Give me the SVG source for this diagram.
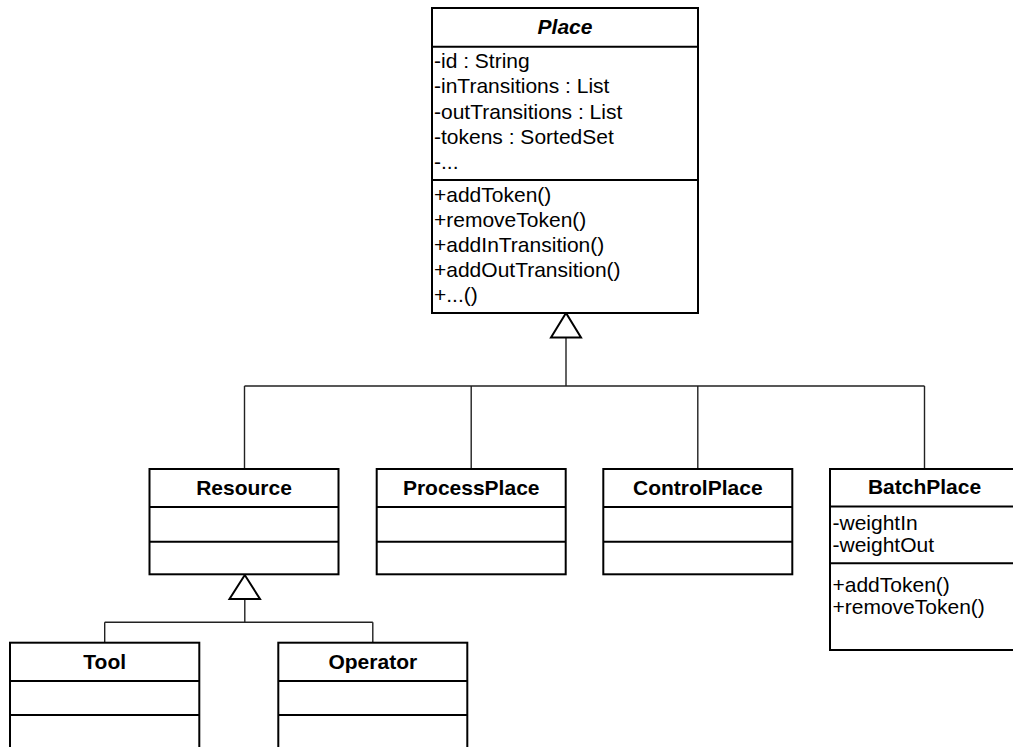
<svg xmlns="http://www.w3.org/2000/svg" width="1013" height="747" viewBox="0 0 1013 747">
  <style>
    .box { fill: #ffffff; stroke: #000000; stroke-width: 2; }
    .sep { stroke: #000000; stroke-width: 2; fill: none; }
    .title { font-family: "Liberation Sans", Arial, sans-serif; font-size: 21px; font-weight: bold; text-anchor: middle; fill: #000; }
    .abstract { font-style: italic; }
    .member { font-family: "Liberation Sans", Arial, sans-serif; font-size: 21px; fill: #000; }
    .link { stroke: #222222; stroke-width: 1.4; fill: none; }
    .head { fill: #ffffff; stroke: #000000; stroke-width: 2; stroke-linejoin: miter; }
  </style>
  <rect width="1013" height="747" fill="#ffffff"/>

  <!-- generalization connectors -->
  <g id="connectors">
    <path class="link" d="M566 337 V386 M244.5 386 H924.5 M244.5 386 V469 M471.2 386 V469 M697.8 386 V469 M924.5 386 V469"/>
    <polygon class="head" points="566,313 551,337.5 581,337.5"/>
    <path class="link" d="M244.8 599 V622.3 M104.7 622.3 H372.8 M104.7 622.3 V642.7 M372.8 622.3 V642.7"/>
    <polygon class="head" points="244.8,575 229.5,599 260,599"/>
  </g>

  <!-- abstract base class -->
  <g id="place">
    <rect class="box" x="432" y="8" width="266" height="305"/>
    <line class="sep" x1="432" y1="46.7" x2="698" y2="46.7"/>
    <line class="sep" x1="432" y1="180" x2="698" y2="180"/>
    <text class="title abstract" x="565" y="33.5">Place</text>
    <text class="member" x="434" y="68">-id : String</text>
    <text class="member" x="434" y="93.3">-inTransitions : List</text>
    <text class="member" x="434" y="118.6">-outTransitions : List</text>
    <text class="member" x="434" y="143.9">-tokens : SortedSet</text>
    <text class="member" x="434" y="169.2">-...</text>
    <text class="member" x="434" y="201.7">+addToken()</text>
    <text class="member" x="434" y="226.7">+removeToken()</text>
    <text class="member" x="434" y="251.7">+addInTransition()</text>
    <text class="member" x="434" y="276.7">+addOutTransition()</text>
    <text class="member" x="434" y="301.7">+...()</text>
  </g>

  <g id="resource">
    <rect class="box" x="149.5" y="469" width="189" height="105.3"/>
    <line class="sep" x1="149.5" y1="507" x2="338.5" y2="507"/>
    <line class="sep" x1="149.5" y1="541.7" x2="338.5" y2="541.7"/>
    <text class="title" x="244" y="495">Resource</text>
  </g>

  <g id="processplace">
    <rect class="box" x="376.7" y="469" width="189" height="105.3"/>
    <line class="sep" x1="376.7" y1="507" x2="565.7" y2="507"/>
    <line class="sep" x1="376.7" y1="541.7" x2="565.7" y2="541.7"/>
    <text class="title" x="471.2" y="495">ProcessPlace</text>
  </g>

  <g id="controlplace">
    <rect class="box" x="603.3" y="469" width="189" height="105.3"/>
    <line class="sep" x1="603.3" y1="507" x2="792.3" y2="507"/>
    <line class="sep" x1="603.3" y1="541.7" x2="792.3" y2="541.7"/>
    <text class="title" x="697.8" y="495">ControlPlace</text>
  </g>

  <g id="batchplace">
    <rect class="box" x="830" y="469" width="189" height="181"/>
    <line class="sep" x1="830" y1="506.5" x2="1019" y2="506.5"/>
    <line class="sep" x1="830" y1="563.3" x2="1019" y2="563.3"/>
    <text class="title" x="924.5" y="494">BatchPlace</text>
    <text class="member" x="832.5" y="529.5">-weightIn</text>
    <text class="member" x="832.5" y="551.5">-weightOut</text>
    <text class="member" x="832.5" y="591.7">+addToken()</text>
    <text class="member" x="832.5" y="613.7">+removeToken()</text>
  </g>

  <g id="tool">
    <rect class="box" x="10" y="642.7" width="189.3" height="120"/>
    <line class="sep" x1="10" y1="681" x2="199.3" y2="681"/>
    <line class="sep" x1="10" y1="715" x2="199.3" y2="715"/>
    <text class="title" x="104.7" y="669.3">Tool</text>
  </g>

  <g id="operator">
    <rect class="box" x="278.3" y="642.7" width="189" height="120"/>
    <line class="sep" x1="278.3" y1="681" x2="467.3" y2="681"/>
    <line class="sep" x1="278.3" y1="715" x2="467.3" y2="715"/>
    <text class="title" x="372.8" y="669.3">Operator</text>
  </g>
</svg>
